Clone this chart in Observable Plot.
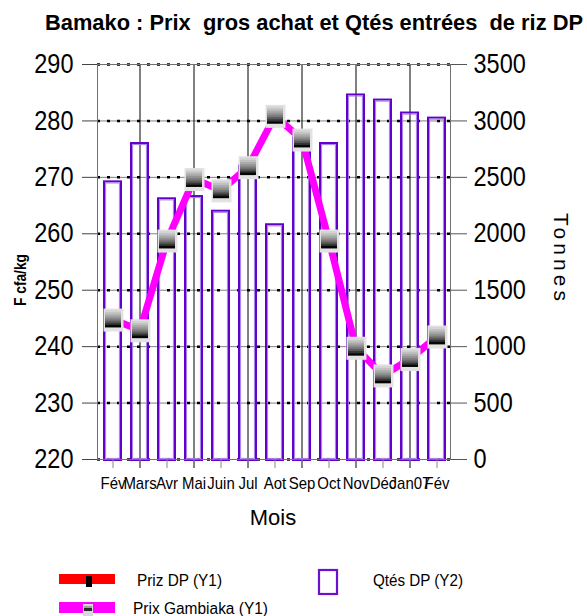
<!DOCTYPE html>
<html><head><meta charset="utf-8">
<script src="https://cdn.jsdelivr.net/npm/d3@7"></script>
<script src="https://cdn.jsdelivr.net/npm/@observablehq/plot@0.6"></script>
<style>
html,body{margin:0;padding:0;background:#fff;}
#wrap{position:relative;width:587px;height:616px;overflow:hidden;background:#fff;}
#chart{position:absolute;left:0;top:0;}
#overlay{position:absolute;left:0;top:0;pointer-events:none;}
#chart svg text{font-family:"Liberation Sans",Arial,sans-serif;fill:#000;}
#chart g[aria-label="x-axis tick label"] text{font-size:17px;}
#chart g[aria-label="y-axis tick label"] text{font-size:27px;}
</style>
</head>
<body>
<div id="wrap">
  <div id="chart"></div>
  <svg id="overlay" width="587" height="616" font-family="Liberation Sans, Arial, sans-serif">
    <text x="45" y="30" font-size="22" font-weight="bold" textLength="538" lengthAdjust="spacingAndGlyphs" xml:space="preserve">Bamako : Prix  gros achat et Qtés entrées  de riz DP</text>
    <text transform="translate(26,280) rotate(-90)" text-anchor="middle" font-size="17" font-weight="bold" textLength="52" lengthAdjust="spacingAndGlyphs">F cfa/kg</text>
    <text transform="translate(554,257) rotate(90)" text-anchor="middle" font-size="21" textLength="88" lengthAdjust="spacing">Tonnes</text>
    <text x="273" y="525" text-anchor="middle" font-size="22">Mois</text>
    <!-- legend -->
    <rect x="59" y="574" width="56" height="10" fill="#ff0000"/>
    <rect x="86" y="576" width="6" height="11" fill="#000"/>
    <text x="137" y="586" font-size="16" textLength="85" lengthAdjust="spacingAndGlyphs">Priz DP (Y1)</text>
    <rect x="319" y="570" width="18" height="24" fill="none" stroke="#6a12cf" stroke-width="2.2"/>
    <text x="373" y="586" font-size="16" textLength="90" lengthAdjust="spacingAndGlyphs">Qtés DP (Y2)</text>
    <rect x="59" y="602" width="56" height="11" fill="#ff00ff"/>
    <rect x="83" y="604" width="10" height="12" fill="#d8d8d8"/>
    <rect x="84" y="606" width="8" height="2" fill="#a0a0a0"/>
    <rect x="84" y="608" width="8" height="3" fill="#2a2a2a"/>
    <text x="133" y="614" font-size="16" textLength="135" lengthAdjust="spacingAndGlyphs">Prix Gambiaka (Y1)</text>
  </svg>
</div>
<script>
// ---- data ----
const months = ["Fév","Mars","Avr","Mai","Juin","Jul","Aot","Sep","Oct","Nov","Déc","Jan07","Fév"];
const prixGambiaka = [244.8,242.9,258.8,269.7,267.7,271.8,280.9,276.7,258.8,239.8,234.9,237.8,241.8];
const qtesDP = [2460,2800,2310,2330,2200,2600,2080,2850,2800,3230,3185,3070,3025];
const prixTicks = [220,230,240,250,260,270,280,290];
const tonnesTicks = [0,500,1000,1500,2000,2500,3000,3500];
const gridMonths = [1,3,5,7,9,11];

// ---- scale mapping for the secondary (tonnes) axis ----
const pMin = prixTicks[0], pMax = prixTicks[prixTicks.length-1];
const tMin = tonnesTicks[0], tMax = tonnesTicks[tonnesTicks.length-1];
const toPrix = t => pMin + (t - tMin) * (pMax - pMin) / (tMax - tMin);
const toTonnes = p => tMin + (p - pMin) * (tMax - tMin) / (pMax - pMin);

const idx = months.map((_, i) => i);
const bars = idx.map(i => ({i, y1: pMin, y2: toPrix(qtesDP[i])}));
const prix = idx.map(i => ({i, p: prixGambiaka[i]}));

// marker glyphs
const stripeGreys = ["#d4d4d4","#c0c0c0","#aaaaaa","#949494","#7b7b7b","#5c5c5c","#353535","#050505"];
const mW = 16, mH = 17;
const stripe = k => ({draw(ctx){ const h = mH / stripeGreys.length; ctx.rect(-mW/2, -mH/2 - 1 + k*h, mW, h + 0.4); }});
const shadow = {draw(ctx){ ctx.rect(-9.5, -11, 20, 23); }};

const W = 587, H = 540;
const marks = [
  Plot.ruleY(prixTicks, {stroke: "#808080", strokeWidth: 1}),
  Plot.ruleY(prixTicks, {stroke: "#000", strokeWidth: 2.5, strokeDasharray: "3,7"}),
  Plot.ruleX(gridMonths, {stroke: "#000", strokeWidth: 1, insetBottom: -9}),
  Plot.barY(bars, {x: "i", y1: "y1", y2: "y2", insetLeft: 5, insetRight: 5, insetBottom: -1,
    fill: "none", stroke: "#6200cc", strokeWidth: 2}),
  Plot.barY(bars, {x: "i", y1: "y1", y2: "y2", insetLeft: 6.6, insetRight: 6.6, insetTop: 1.6, insetBottom: 0.6,
    fill: "none", stroke: "#a47ce4", strokeWidth: 1}),
  Plot.frame({stroke: "#707070", strokeWidth: 1}),
  Plot.line(prix, {x: "i", y: "p", stroke: "#ff00ff", strokeWidth: 7, strokeLinejoin: "round"}),
  Plot.dot(prix, {x: "i", y: "p", symbol: shadow, fill: "#e2e2e2", stroke: "none"}),
  ...stripeGreys.map((g, k) => Plot.dot(prix, {x: "i", y: "p", symbol: stripe(k), fill: g, stroke: "none"})),
  Plot.axisX(idx, {tickSize: 9, tickPadding: 8, stroke: "#888", fontSize: 17,
    tickFormat: i => months[i], label: null}),
  Plot.axisY(prixTicks, {anchor: "left", tickSize: 15, tickPadding: 9, stroke: "#444", fontSize: 27, label: null}),
  Plot.axisY(tonnesTicks.map(toPrix), {anchor: "right", tickSize: 16, tickPadding: 7, stroke: "#555", fontSize: 27,
    tickFormat: p => String(Math.round(toTonnes(p))), label: null})
];

const chart = Plot.plot({
  width: W, height: H,
  marginTop: 64, marginBottom: H - 459, marginLeft: 97, marginRight: W - 450,
  x: {type: "band", domain: idx, range: [98.3, 451.3], padding: 0, label: null},
  y: {domain: [pMin, pMax], label: null},
  marks
});
document.getElementById("chart").appendChild(chart);

// condense tick labels horizontally like the original
function condense(label, k) {
  chart.querySelectorAll(`g[aria-label="${label}"] text`).forEach(t => {
    const L = t.getComputedTextLength();
    t.setAttribute("textLength", (L * k).toFixed(1));
    t.setAttribute("lengthAdjust", "spacingAndGlyphs");
  });
}
condense("x-axis tick label", 0.88);
condense("y-axis tick label", 0.87);
</script>
</body></html>
